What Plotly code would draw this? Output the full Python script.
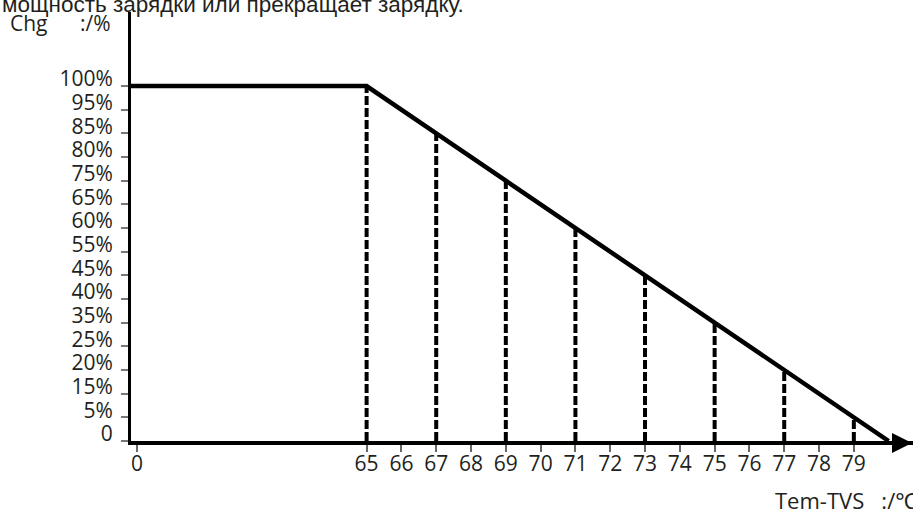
import plotly.graph_objects as go

# ---- data ----
temps = [65, 67, 69, 71, 73, 75, 77, 79, 80]          # °C
charge = [100, 85, 75, 60, 45, 35, 20, 5, 0]           # % charge power
y_levels = [0, 5, 15, 20, 25, 35, 40, 45, 55, 60, 65, 75, 80, 85, 95, 100]
y_labels = ["0", "5%", "15%", "20%", "25%", "35%", "40%", "45%", "55%",
            "60%", "65%", "75%", "80%", "85%", "95%", "100%"]
x_ticks = list(range(65, 80))
x_tick_labels = [str(v) for v in x_ticks]
title_text = "мощность зарядки или прекращает зарядку."
y_title = ["Chg", ":/%"]
x_title = "Tem-TVS\u00a0\u00a0\u00a0:/℃"

# axis break: the origin "0" sits just before 65 on the drawing
X_ORIGIN = 58.23
X_END = 80.70
Y_TOP = 18.13

W, H = 913, 509
ML, MR, MT, MB = 131, 0, 12, 68
plot_w = W - ML - MR

def ypos(p):
    return y_levels.index(p)

charge_pos = [ypos(c) for c in charge]

fig = go.Figure()

# dashed drop lines
dx, dy = [], []
for t, c in zip(temps[:-1], charge_pos[:-1]):
    dx += [t, t, None]
    dy += [0, c, None]
fig.add_trace(go.Scatter(x=dx, y=dy, mode="lines",
                         line=dict(color="black", width=4, dash="9px,3px"),
                         hoverinfo="skip", showlegend=False))

# main curve: flat 100% from origin to 65, then linear down to 0 at 80
fig.add_trace(go.Scatter(x=[X_ORIGIN] + temps, y=[ypos(100)] + charge_pos,
                         mode="lines", line=dict(color="black", width=4.5),
                         hoverinfo="skip", showlegend=False, cliponaxis=False))

font_family = "Open Sans, Noto Sans, sans-serif"
txt_col = "#231f20"

fig.update_layout(
    width=W, height=H,
    margin=dict(l=ML, r=MR, t=MT, b=MB, pad=0),
    paper_bgcolor="white", plot_bgcolor="white",
    font=dict(family=font_family, color=txt_col, size=21),
    xaxis=dict(range=[X_ORIGIN, X_END], showgrid=False, zeroline=False,
               showline=True, linecolor="black", linewidth=4,
               tickmode="array",
               tickvals=[X_ORIGIN + 0.17] + x_ticks,
               ticktext=["0"] + x_tick_labels,
               ticks="outside", ticklen=7, tickwidth=1.5, tickcolor="#666",
               ticklabelstandoff=-6,
               tickfont=dict(size=21, color=txt_col)),
    yaxis=dict(range=[0, Y_TOP], showgrid=False, zeroline=False,
               showline=True, linecolor="black", linewidth=3,
               tickmode="array",
               tickvals=list(range(len(y_levels))),
               ticktext=y_labels,
               ticks="outside", ticklen=7, tickwidth=1.5, tickcolor="#777",
               ticklabelshift=-7, ticklabelstandoff=4,
               tickfont=dict(size=21, color=txt_col)),
)

# cut-off caption at the very top
fig.add_annotation(text=title_text, xref="paper", yref="paper",
                   x=-ML / plot_w, y=1, xanchor="left", yanchor="middle",
                   yshift=8, showarrow=False,
                   font=dict(size=22.5, color="#231f20",
                             family="Liberation Sans, Arial, sans-serif"))
# axis titles
fig.add_annotation(text=y_title[0], xref="paper", yref="paper",
                   x=(8 - ML) / plot_w, y=1, xanchor="left", yanchor="middle",
                   yshift=-11, showarrow=False, font=dict(size=21, color=txt_col))
fig.add_annotation(text=y_title[1], xref="paper", yref="paper",
                   x=(78 - ML) / plot_w, y=1, xanchor="left", yanchor="middle",
                   yshift=-11, showarrow=False, font=dict(size=21, color=txt_col))
fig.add_annotation(text=x_title, xref="paper", yref="paper",
                   x=(773 - ML) / plot_w, y=0, xanchor="left", yanchor="middle",
                   yshift=-59, showarrow=False, font=dict(size=22, color=txt_col))
# arrow head at end of x axis
fig.add_annotation(text="", xref="paper", yref="paper", x=1, y=0,
                   ax=-30, ay=0, axref="pixel", ayref="pixel",
                   yshift=-2, showarrow=True, arrowhead=2, arrowsize=1,
                   arrowwidth=4, arrowcolor="black")

fig.write_html("out.html", config=dict(displayModeBar=False),
               post_script="document.body.style.margin='0px';")
